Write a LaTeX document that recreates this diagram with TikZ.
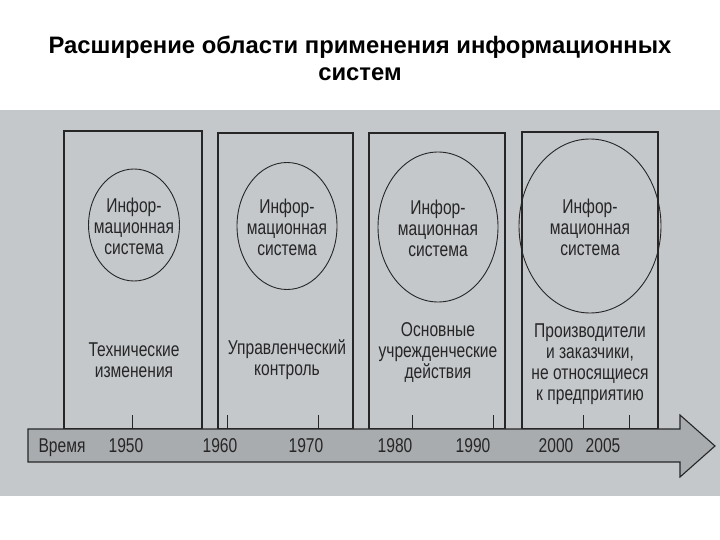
\documentclass[tikz,border=0pt]{standalone}
\usepackage{fontspec}
\setmainfont{Liberation Sans}
\newfontfamily\cond[FakeStretch=0.78]{Liberation Sans}
\usetikzlibrary{shapes.geometric}
\definecolor{photo}{HTML}{C4C8CB}
\definecolor{ink}{HTML}{262626}
\definecolor{axisfill}{HTML}{A9ACAE}
\tikzset{
  panel/.style={draw=ink, line width=1.1pt},
  isys/.style={ellipse, draw=ink, line width=0.9pt, inner sep=0pt},
  lbl/.style={font=\cond\fontsize{20}{21}\selectfont, text=ink, align=center, inner sep=0pt},
  yr/.style={font=\cond\fontsize{20}{21}\selectfont, text=ink, inner sep=0pt, anchor=base},
  tick/.style={draw=ink, line width=1pt},
  title/.style={font=\bfseries\fontsize{23.8}{27}\selectfont, align=center, text=black}
}
\begin{document}
\begin{tikzpicture}[x=1pt,y=-1pt]
\useasboundingbox (0,0) rectangle (720,540);
\fill[white] (0,0) rectangle (720,540);
\fill[photo] (0,110) rectangle (720,496);
\node[title] (t) at (360,58) {Расширение области применения информационных\\систем};
% panels
\draw[panel] (64,131) rectangle (202,429);
\draw[panel] (218,133) rectangle (353,429);
\draw[panel] (369,133) rectangle (505,429);
\draw[panel] (522,132) rectangle (658,429);
% ellipses
\node[isys, minimum width=91, minimum height=112] (e1) at (134,225) {};
\node[isys, minimum width=100, minimum height=127] (e2) at (287,226) {};
\node[isys, minimum width=120, minimum height=150] (e3) at (438,227) {};
\node[isys, minimum width=142, minimum height=174] (e4) at (590,226) {};
\foreach \n in {1,2,3,4}{
  \node[lbl] (s\n) at ([yshift=-1pt]e\n.center) {Инфор-\\мационная\\система};
}
% bottom texts
\node[lbl] (b1) at (134,360) {Технические\\изменения};
\node[lbl] (b2) at (287,360) {Управленческий\\контроль};
\node[lbl] (b3) at (438,353) {Основные\\учрежденческие\\действия};
\node[lbl] (b4) at (590,364) {Производители\\и заказчики,\\не относящиеся\\к предприятию};
% axis arrow
\draw[ink, line width=1.1pt, fill=axisfill] (28,429) -- (680,429) -- (680,415) -- (715,446) -- (680,477) -- (680,462) -- (28,462) -- cycle;
\foreach \x in {132,227,318,412,493,583,629}{
  \draw[tick] (\x,429) -- (\x,415);
}
\node[yr] (v) at (62,452) {Время};
\node[yr] (y1) at (126,452) {1950};
\node[yr] (y2) at (220,452) {1960};
\node[yr] (y3) at (306,452) {1970};
\node[yr] (y4) at (395,452) {1980};
\node[yr] (y5) at (473,452) {1990};
\node[yr] (y6) at (556,452) {2000};
\node[yr] (y7) at (603,452) {2005};
\end{tikzpicture}
\end{document}
